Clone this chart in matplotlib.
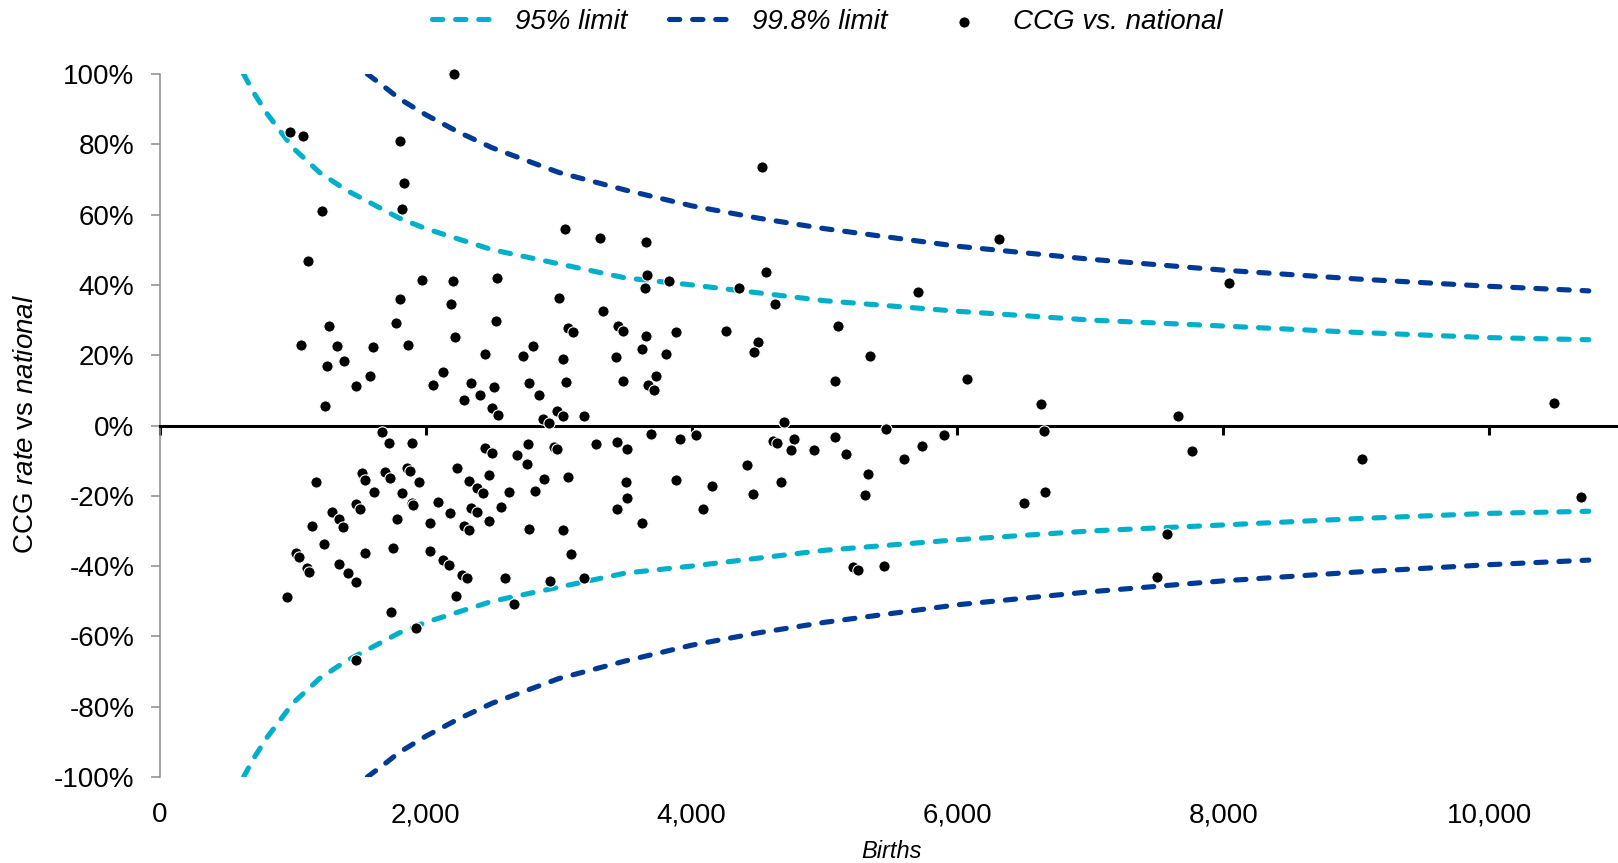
import matplotlib.pyplot as plt
import matplotlib.ticker as mticker

plt.rcParams["font.family"] = ["Liberation Sans", "DejaVu Sans"]
plt.rcParams["mathtext.fontset"] = "custom"
plt.rcParams["mathtext.rm"] = "Liberation Sans"
plt.rcParams["mathtext.it"] = "Liberation Sans:italic"

# --- CCG points: births and rate vs national (%) ---
births = [
    2210, 980, 1076, 1808, 1836, 1823, 1216, 1116, 1969, 2205,
    1803, 2187, 1773, 1272, 2222, 1063, 1334, 1605, 1864, 1259,
    1382, 2445, 1578, 1472, 2132, 2054, 2338, 2290, 2408, 1242,
    2538, 2526, 3050, 3308, 3655, 3667, 3652, 3830, 3000, 3336,
    3068, 3105, 3444, 3482, 3655, 3880, 3629, 3807, 2804, 2729,
    3032, 3431, 2779, 2854, 3057, 3482, 3735, 3674, 3715, 2511,
    2498, 2543, 2884, 2929, 2985, 3030, 3188, 4527, 4562, 4357,
    4625, 5701, 4261, 4497, 4467, 5101, 5340, 5076, 6070, 4697,
    6315, 8041, 6627, 7663, 10485,
    3692, 3913, 4033, 2448, 2496, 2771, 2962, 2990, 3282, 3436,
    3512, 2684, 2759, 2478, 2889, 3068, 3506, 3883, 2626, 2819,
    3512, 2563, 3436, 4083, 2473, 3627, 2779, 3030, 3093, 2598,
    2935, 3188, 2666, 1668, 1723, 1896, 1174, 1517, 1543, 1695,
    1730, 1859, 1881, 1951, 1610, 1821, 2237, 2327, 2383, 2433,
    1475, 1505, 1297, 1347, 1379, 1894, 1902, 2092, 2182, 2343,
    2383, 2290, 2325, 1144, 1780, 2034, 1236, 1023, 1045, 1106,
    1123, 1540, 1756, 2032, 2133, 2171, 1349, 1412, 1475, 2270,
    2312, 2225, 958, 1741, 1926, 1475, 4615, 4645, 4768, 4747,
    4918, 5081, 5164, 5598, 5731, 5899, 4419, 5327, 4156, 4676,
    4464, 5302, 5217, 5255, 5450, 5461, 6649, 7761, 9047, 6661,
    6502, 10694, 7573, 7500,
]
rate_vs_national = [
    100.0, 83.5, 82.3, 81.0, 69.0, 61.7, 61.0, 46.8, 41.4, 41.0,
    36.1, 34.7, 29.1, 28.4, 25.3, 23.0, 22.5, 22.2, 23.0, 17.0,
    18.3, 20.3, 14.0, 11.2, 15.1, 11.5, 12.0, 7.2, 8.7, 5.5,
    42.0, 29.7, 55.8, 53.4, 52.3, 42.8, 39.0, 41.0, 36.4, 32.7,
    27.8, 26.6, 28.4, 27.0, 25.5, 26.6, 21.9, 20.4, 22.7, 19.9,
    18.8, 19.5, 12.0, 8.8, 12.5, 12.8, 14.0, 11.5, 10.1, 10.9,
    5.1, 3.0, 1.9, 0.6, 4.2, 2.8, 2.8, 73.6, 43.7, 39.0,
    34.5, 37.9, 26.8, 23.8, 21.0, 28.4, 19.7, 12.7, 13.2, 1.0,
    53.1, 40.6, 6.1, 2.6, 6.3,
    -2.4, -3.7, -2.6, -6.4, -7.9, -5.3, -6.0, -6.8, -5.3, -4.8,
    -6.7, -8.4, -11.0, -14.1, -15.1, -14.6, -16.1, -15.6, -18.9, -18.6,
    -20.7, -23.3, -23.8, -23.8, -27.2, -27.7, -29.4, -29.6, -36.6, -43.3,
    -44.3, -43.5, -50.8, -1.8, -5.1, -5.1, -16.2, -13.6, -15.5, -13.1,
    -14.9, -12.0, -12.9, -16.1, -18.8, -19.2, -12.2, -15.7, -17.7, -19.3,
    -22.3, -23.8, -24.5, -26.7, -28.8, -22.0, -22.6, -21.8, -25.0, -23.4,
    -24.6, -28.6, -29.7, -28.7, -26.6, -27.7, -33.8, -36.4, -37.4, -40.6,
    -41.6, -36.2, -34.8, -35.6, -38.3, -39.7, -39.5, -42.0, -44.6, -42.5,
    -43.5, -48.5, -48.7, -53.0, -57.6, -66.7, -4.3, -4.9, -3.8, -7.0,
    -7.0, -3.2, -8.0, -9.4, -5.7, -2.8, -11.2, -13.9, -17.2, -16.0,
    -19.4, -19.7, -40.3, -41.0, -39.9, -0.9, -1.5, -7.2, -9.4, -18.9,
    -22.0, -20.3, -30.9, -43.2,
]

# --- control limits ---
births_95 = [629, 700, 800, 900, 1000, 1200, 1400, 1600, 1800, 2000, 2500,
             3000, 3500, 4000, 5000, 6000, 7000, 8000, 9000, 10000, 10750]
upper_95 = [100, 95, 89, 84, 79, 72, 67, 63, 59, 56, 50,
            46, 42, 40, 35.5, 32.5, 30, 28.3, 26.5, 25, 24.4]
lower_95 = [-100, -95, -89, -84, -79, -72, -67, -63, -59, -56, -50,
            -46, -42, -40, -35.5, -32.5, -30, -28.3, -26.5, -25, -24.4]

births_998 = [1560, 1700, 1800, 2000, 2250, 2500, 3000, 3500, 4000, 4500,
              5000, 6000, 7000, 8000, 9000, 10000, 10750]
upper_998 = [100, 96, 93, 88.4, 83.4, 79, 72, 67, 62.5, 59,
             56, 51, 47.3, 44.2, 41.7, 39.6, 38.3]
lower_998 = [-100, -96, -93, -88.4, -83.4, -79, -72, -67, -62.5, -59,
             -56, -51, -47.3, -44.2, -41.7, -39.6, -38.3]

x_ticks = [0, 2000, 4000, 6000, 8000, 10000]
y_ticks = [-100, -80, -60, -40, -20, 0, 20, 40, 60, 80, 100]

CYAN = "#00B0CA"
NAVY = "#003A94"
GREY = "#8c8c8c"

fig = plt.figure(figsize=(16.18, 8.63), dpi=100)
ax = fig.add_axes([160 / 1618, 86 / 863, 1462 / 1618, 703 / 863])

dash_kw = dict(lw=3.7, dashes=(2.0, 2.5), dash_capstyle="round", zorder=2)
l95, = ax.plot(births_95, upper_95, color=CYAN, label="95% limit", **dash_kw)
ax.plot(births_95, lower_95, color=CYAN, **dash_kw)
l998, = ax.plot(births_998, upper_998, color=NAVY, label="99.8% limit", **dash_kw)
ax.plot(births_998, lower_998, color=NAVY, **dash_kw)

pts = ax.scatter(births, rate_vs_national, s=66, c="black", edgecolors="white",
                 linewidths=0.8, zorder=3, clip_on=False, label="CCG vs. national")

ax.set_xlim(0, 11000)
ax.set_ylim(-100, 100)

# axes look (Excel style: horizontal axis crossing at 0, labels low)
ax.spines["top"].set_visible(False)
ax.spines["right"].set_visible(False)
ax.spines["left"].set_color(GREY)
ax.spines["left"].set_linewidth(1.1)
ax.spines["bottom"].set_position(("data", 0))
ax.spines["bottom"].set_linewidth(2.2)
ax.spines["bottom"].set_zorder(2.5)

ax.set_xticks(x_ticks)
ax.tick_params(axis="x", direction="out", length=6.5, width=2.2,
               color="black", labelbottom=False)

ax.set_yticks(y_ticks)
ax.yaxis.set_major_formatter(mticker.FuncFormatter(lambda v, _: f"{v:.0f}%"))
ax.tick_params(axis="y", direction="out", length=6.3, width=1.1, color=GREY,
               pad=12, labelsize=20)

lab = ax.secondary_xaxis("bottom")
lab.set_xticks(x_ticks, labels=[f"{t:,}" for t in x_ticks])
lab.tick_params(length=0, pad=18, labelsize=20)
for s in lab.spines.values():
    s.set_visible(False)

fig.text(26 / 1618, 1 - 424 / 863, r"CCG $\mathit{rate}$ vs $\mathit{national}$",
         rotation=90, ha="center", va="center", fontsize=20)
fig.text(892 / 1618, 1 - 851 / 863, "Births", style="italic",
         ha="center", va="center", fontsize=17)

fig.legend(handles=[l95, l998, pts], loc="center", ncol=3, frameon=False,
           bbox_to_anchor=(827 / 1618, 1 - 22 / 863), scatterpoints=1,
           handlelength=2.5, handletextpad=0.5, columnspacing=1.5,
           prop={"size": 20, "style": "italic"})

fig.savefig("out.png", dpi=100)
